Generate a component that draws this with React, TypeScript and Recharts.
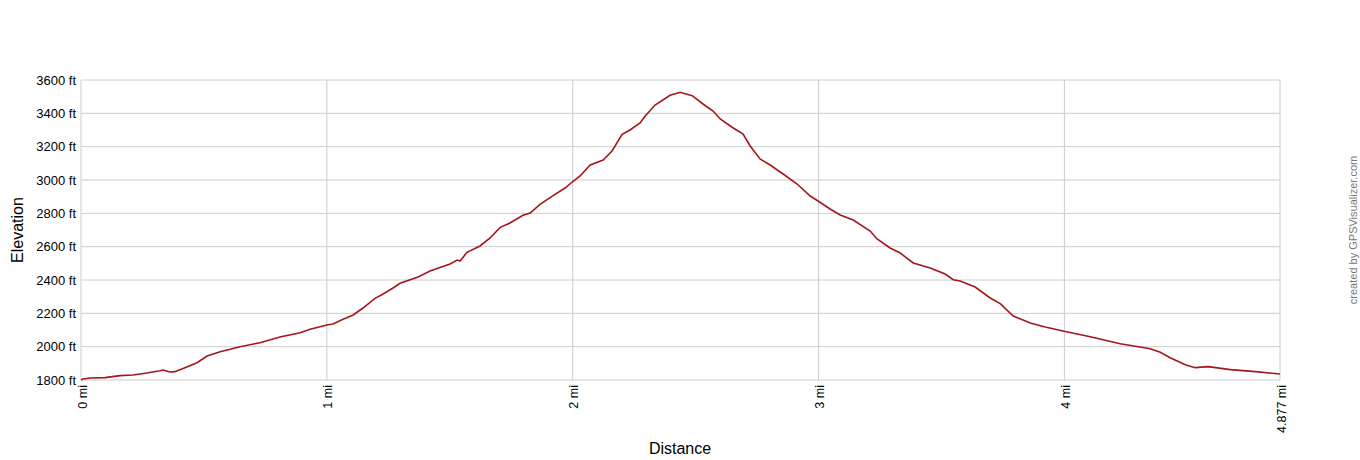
import { CartesianGrid, Line, LineChart, XAxis, YAxis } from "recharts";

const distanceMi = [
  0, 0.008, 0.037, 0.098, 0.159, 0.212, 0.268, 0.321, 0.334, 0.362, 0.382, 0.423, 0.472, 0.513,
  0.566, 0.647, 0.728, 0.809, 0.891, 0.932, 1.0, 1.025, 1.066, 1.107, 1.147, 1.196, 1.229, 1.269,
  1.298, 1.371, 1.42, 1.501, 1.53, 1.542, 1.57, 1.623, 1.664, 1.705, 1.745, 1.798, 1.827, 1.867,
  1.928, 1.969, 1.998, 2.03, 2.071, 2.124, 2.16, 2.201, 2.233, 2.274, 2.295, 2.335, 2.396, 2.437,
  2.486, 2.53, 2.571, 2.6, 2.653, 2.693, 2.722, 2.762, 2.803, 2.856, 2.913, 2.966, 2.998, 3.047,
  3.088, 3.141, 3.21, 3.238, 3.291, 3.332, 3.385, 3.454, 3.515, 3.548, 3.576, 3.637, 3.698, 3.739,
  3.792, 3.861, 3.922, 3.999, 4.105, 4.227, 4.349, 4.39, 4.43, 4.492, 4.532, 4.585, 4.675, 4.776,
  4.877,
];

const elevationFt = [
  1800, 1806, 1812, 1814, 1826, 1830, 1842, 1856, 1860, 1848, 1850, 1874, 1904, 1944,
  1970, 2000, 2024, 2058, 2084, 2104, 2130, 2136, 2164, 2190, 2232, 2290, 2316, 2352,
  2380, 2418, 2454, 2496, 2520, 2514, 2566, 2604, 2652, 2716, 2742, 2788, 2802, 2854,
  2914, 2952, 2988, 3024, 3090, 3120, 3174, 3274, 3300, 3342, 3384, 3450, 3508, 3526,
  3506, 3456, 3414, 3366, 3312, 3276, 3204, 3126, 3090, 3036, 2976, 2904, 2874, 2826,
  2790, 2760, 2694, 2646, 2592, 2562, 2502, 2472, 2436, 2402, 2394, 2358, 2292, 2258,
  2184, 2142, 2118, 2092, 2060, 2018, 1988, 1966, 1934, 1892, 1874, 1880, 1862, 1850,
  1836,
];

const xTicks = [0, 1, 2, 3, 4, 4.877];
const yTicks = [1800, 2000, 2200, 2400, 2600, 2800, 3000, 3200, 3400, 3600];

const data = distanceMi.map((d, i) => ({ d, ele: elevationFt[i] }));

const FONT = '"Liberation Sans", Arial, sans-serif';

function XTick({ x, y, payload }: any) {
  return (
    <g transform={`translate(${x},${y})`}>
      <text
        transform="rotate(-90)"
        x={-5}
        dy="0.45em"
        textAnchor="end"
        fontSize={12.5}
        fontFamily={FONT}
        fill="#000"
      >
        {`${payload.value} mi`}
      </text>
    </g>
  );
}

export default function App() {
  return (
    <div style={{ position: "relative", width: 1360, height: 460, overflow: "hidden" }}>
      <style>{`body{margin:0}`}</style>
      <LineChart width={1360} height={460} data={data} margin={{ top: 80, right: 80, bottom: 20, left: 0 }}>
        <CartesianGrid stroke="#cccccc" strokeWidth={1} verticalValues={xTicks} horizontalValues={yTicks} />
        <XAxis
          dataKey="d"
          type="number"
          domain={[0, 4.877]}
          ticks={xTicks}
          interval={0}
          axisLine={false}
          tickLine={false}
          tickSize={0}
          tickMargin={0}
          height={60}
          tick={<XTick />}
        />
        <YAxis
          type="number"
          domain={[1800, 3600]}
          ticks={yTicks}
          interval={0}
          width={81}
          axisLine={false}
          tickLine={false}
          tickSize={3}
          tickMargin={2}
          tick={{ fontSize: 13, fill: "#000", fontFamily: FONT }}
          tickFormatter={(v: number) => `${v} ft`}
        />
        <Line
          type="linear"
          dataKey="ele"
          stroke="#a3161a"
          strokeWidth={1.6}
          dot={false}
          isAnimationActive={false}
        />
      </LineChart>
      <svg
        width={1360}
        height={460}
        style={{ position: "absolute", left: 0, top: 0, pointerEvents: "none" }}
        fontFamily={FONT}
      >
        <text transform="translate(17,230) rotate(-90)" textAnchor="middle" dominantBaseline="central" fontSize={16} fill="#000">
          Elevation
        </text>
        <text x={680} y={448} textAnchor="middle" dominantBaseline="central" fontSize={16} fill="#000">
          Distance
        </text>
        <text transform="translate(1353,230) rotate(-90)" textAnchor="middle" dominantBaseline="central" fontSize={11} fill="#777777">
          created by GPSVisualizer.com
        </text>
      </svg>
    </div>
  );
}
